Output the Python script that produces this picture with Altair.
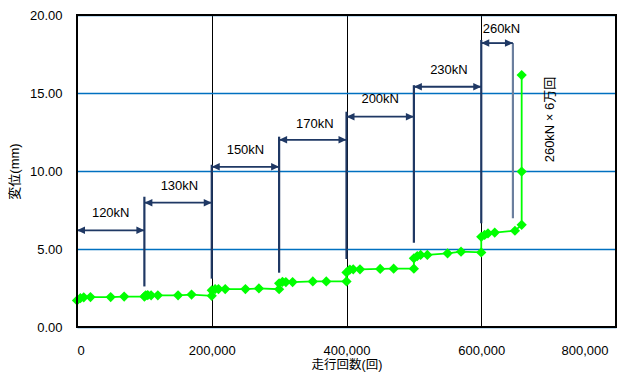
import altair as alt
import pandas as pd

# Measured series (running cycles vs displacement)
cycles = [0, 5000, 10000, 20000, 50000, 70000, 100000, 102000, 105000, 110000,
          120000, 150000, 170000, 200000, 200000, 205000, 210000, 220000, 250000, 270000,
          300000, 300000, 305000, 310000, 320000, 350000, 370000, 400000, 400000, 405000,
          410000, 420000, 450000, 470000, 500000, 500000, 505000, 510000, 520000, 550000,
          570000, 600000, 600000, 605000, 610000, 620000, 650000, 660000, 660000, 660000]
disp = [1.70, 1.85, 1.90, 1.92, 1.92, 1.95, 1.95, 2.03, 2.05, 2.03,
        2.03, 2.03, 2.08, 2.00, 2.35, 2.43, 2.43, 2.43, 2.43, 2.47,
        2.42, 2.80, 2.90, 2.88, 2.88, 2.92, 2.92, 2.92, 3.50, 3.68,
        3.70, 3.70, 3.72, 3.74, 3.74, 4.40, 4.55, 4.62, 4.62, 4.72,
        4.83, 4.78, 5.78, 5.90, 6.00, 6.05, 6.17, 6.55, 9.96, 16.15]

# Load-step annotations
loads = ["120kN", "130kN", "150kN", "170kN", "200kN", "230kN", "260kN"]
seg_start = [0, 100000, 200000, 300000, 400000, 500000, 600000]
seg_end = [100000, 200000, 300000, 400000, 500000, 600000, 647000]
arrow_y = [6.2, 7.97, 10.27, 12.0, 13.48, 15.4, 18.2]
label_x = [50000, 152000, 250000, 353000, 450000, 552000, 630000]
label_y = [7.3, 9.05, 11.35, 13.0, 14.6, 16.5, 19.1]
marker_x = [100000, 200000, 300000, 400000, 500000, 600000, 647000]
marker_top = [8.35, 10.4, 12.2, 13.8, 15.5, 18.4, 18.2]
marker_bottom = [2.6, 3.1, 3.48, 4.36, 5.4, 6.65, 6.97]

note_text = ["260kN × 6万回"]
note_x = [702000]
note_y = [13.3]

x_ticks = [0, 200000, 400000, 600000, 800000]
y_ticks = [0, 5, 10, 15, 20]

FONT = "Liberation Sans, 'Noto Sans CJK JP', sans-serif"
NAVY = "#1f3864"
GREEN = "#00ff00"
W, H = 539, 312

series = pd.DataFrame({"cycles": cycles, "disp": disp, "order": list(range(len(cycles)))})
ann = pd.DataFrame({
    "load": loads, "x0": seg_start, "x1": seg_end, "ay": arrow_y,
    "lx": label_x, "ly": label_y, "mx": marker_x, "mt": marker_top, "mb": marker_bottom,
})
note = pd.DataFrame({"t": note_text, "x": note_x, "y": note_y})

xscale = alt.Scale(domain=[0, 800000], nice=False)
yscale = alt.Scale(domain=[0, 20], nice=False)

xaxis = alt.Axis(values=x_ticks, format=",d", title="走行回数(回)", grid=True,
                 gridColor="#000000", gridWidth=1, ticks=False, domain=False,
                 labelPadding=17, titlePadding=1, labelFontSize=13, titleFontSize=12.5,
                 labelOffset=alt.ConditionalAxisNumber(
                     condition={"test": "datum.value == 800000", "value": -8}, value=0),
                 labelColor="#000", titleColor="#000", labelFont=FONT, titleFont=FONT,
                 titleFontWeight="normal")
yaxis = alt.Axis(values=y_ticks, format=".2f", title="変位(mm)", grid=True,
                 gridColor="#0070c0", gridWidth=1.3, ticks=False, domain=False,
                 labelPadding=15, titlePadding=8, labelFontSize=13, titleFontSize=13,
                 labelColor="#000", titleColor="#000", labelFont=FONT, titleFont=FONT,
                 titleFontWeight="normal")

base = alt.Chart(series)

line = base.mark_line(color=GREEN, strokeWidth=1.8).encode(
    x=alt.X("cycles:Q", scale=xscale, axis=xaxis),
    y=alt.Y("disp:Q", scale=yscale, axis=yaxis),
    order="order:Q",
)
pts = base.mark_point(shape="diamond", filled=True, size=105, color=GREEN, opacity=1).encode(
    x=alt.X("cycles:Q", scale=xscale),
    y=alt.Y("disp:Q", scale=yscale),
)

abase = alt.Chart(ann)
vlines = abase.mark_rule(strokeWidth=2.2).encode(
    x=alt.X("mx:Q", scale=xscale),
    y=alt.Y("mt:Q", scale=yscale),
    y2="mb:Q",
    color=alt.condition("datum.mx > 640000", alt.value("#6b7f9e"), alt.value(NAVY)),
)
arrows = abase.mark_rule(strokeWidth=1.8, color=NAVY).encode(
    x=alt.X("x0:Q", scale=xscale),
    x2="x1:Q",
    y=alt.Y("ay:Q", scale=yscale),
)
head_l = abase.mark_point(shape="M0,0L1.6,-0.75L1.6,0.75Z", filled=True, size=100,
                          color=NAVY, opacity=1).encode(
    x=alt.X("x0:Q", scale=xscale), y=alt.Y("ay:Q", scale=yscale))
head_r = abase.mark_point(shape="M0,0L-1.6,-0.75L-1.6,0.75Z", filled=True, size=100,
                          color=NAVY, opacity=1).encode(
    x=alt.X("x1:Q", scale=xscale), y=alt.Y("ay:Q", scale=yscale))
labels = abase.mark_text(font=FONT, fontSize=13, color="#000", baseline="middle",
                         align="center").encode(
    x=alt.X("lx:Q", scale=xscale), y=alt.Y("ly:Q", scale=yscale), text="load:N")

note_txt = alt.Chart(note).mark_text(font=FONT, fontSize=13, color="#000", angle=270,
                                     baseline="middle", align="center").encode(
    x=alt.X("x:Q", scale=xscale), y=alt.Y("y:Q", scale=yscale), text="t:N")

border = alt.Chart(pd.DataFrame({"b": [0]})).mark_rect(
    fill=None, filled=False, stroke="#000000", strokeWidth=2).encode(
    x=alt.value(0), x2=alt.value(W), y=alt.value(0), y2=alt.value(H))

chart = alt.layer(line, vlines, arrows, head_l, head_r, labels, note_txt, pts, border).properties(
    width=W, height=H,
    autosize=alt.AutoSizeParams(type="none"),
    padding={"left": 69, "top": 7, "right": 16, "bottom": 45},
).configure_view(stroke=None).configure(font=FONT)

chart.save("out.html", embed_options={"renderer": "svg", "actions": False})
